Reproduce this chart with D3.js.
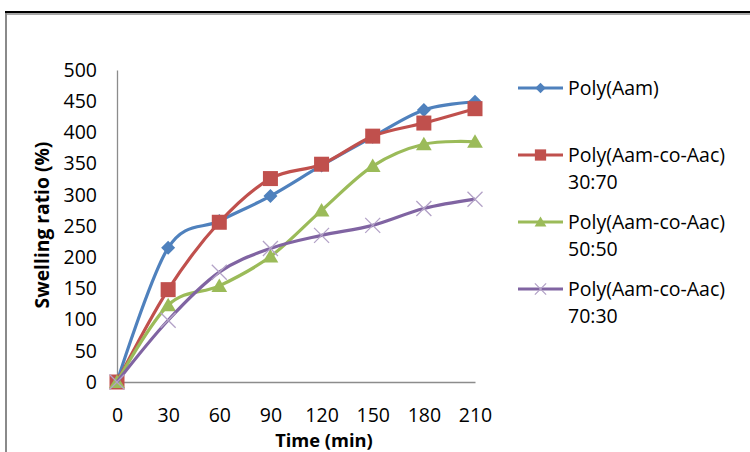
<!DOCTYPE html>
<html>
<head>
<meta charset="utf-8">
<script src="https://cdn.jsdelivr.net/npm/d3@7"></script>
<style>
  html, body { margin: 0; padding: 0; background: #fff; }
  svg { display: block; }
  text { font-family: "Open Sans", "DejaVu Sans", sans-serif; fill: #000; }
</style>
</head>
<body>
<svg id="chart" width="750" height="452"></svg>
<script>
// Swelling ratio (%) over time for the homopolymer and the three copolymer ratios
const times = [0, 30, 60, 90, 120, 150, 180, 210];
const yTicks = [0, 50, 100, 150, 200, 250, 300, 350, 400, 450, 500];

const polyAam      = [0, 215, 258, 298, 347, 393, 436, 449];
const poly30_70    = [0, 148, 256, 326, 349, 394, 415, 438];
const poly50_50    = [0, 123, 154, 201, 275, 346, 381, 385];
const poly70_30    = [0, 99, 176, 214, 235, 251, 278, 293];

const seriesNames  = [["Poly(Aam)"], ["Poly(Aam-co-Aac)", "30:70"], ["Poly(Aam-co-Aac)", "50:50"], ["Poly(Aam-co-Aac)", "70:30"]];
const seriesValues = [polyAam, poly30_70, poly50_50, poly70_30];
const seriesColors = ["#4F81BD", "#C0504D", "#9BBB59", "#8064A2"];
const markerTypes  = ["diamond", "square", "triangle", "cross"];

const svg = d3.select("#chart");

// frame edges
svg.append("line").attr("x1", 5).attr("x2", 750).attr("y1", 12).attr("y2", 12)
  .attr("stroke", "#000").attr("stroke-width", 2.2);
svg.append("line").attr("x1", 6).attr("x2", 750).attr("y1", 14).attr("y2", 14)
  .attr("stroke", "#8a8a8a").attr("stroke-width", 1.5);
svg.append("line").attr("x1", 6).attr("x2", 6).attr("y1", 13).attr("y2", 452)
  .attr("stroke", "#8a8a8a").attr("stroke-width", 2);

const plot = { left: 117, right: 475, top: 70, bottom: 382 };

const x = d3.scalePoint().domain(times).range([plot.left, plot.right]);
const y = d3.scaleLinear().domain([0, 500]).range([plot.bottom, plot.top]);

// axes
const yAxis = svg.append("g").attr("transform", `translate(${plot.left},0)`)
  .call(d3.axisLeft(y).tickValues(yTicks).tickSize(0).tickPadding(20));
const xAxis = svg.append("g").attr("transform", `translate(0,${plot.bottom})`)
  .call(d3.axisBottom(x).tickSize(0).tickPadding(26));
[yAxis, xAxis].forEach(g => {
  g.select(".domain").attr("stroke", "#8c8c8c").attr("stroke-width", 1.3);
  g.selectAll("text").attr("font-size", 19.5).attr("font-family", "'Open Sans', sans-serif").attr("fill", "#000");
});

// axis titles
svg.append("text").attr("x", 324).attr("y", 447).attr("text-anchor", "middle")
  .attr("font-size", 18.3).attr("font-weight", "bold").text("Time (min)");
svg.append("text").attr("transform", "translate(49,225) rotate(-90)").attr("text-anchor", "middle")
  .attr("font-size", 19.3).attr("font-weight", "bold").text("Swelling ratio (%)");

// marker shapes
function marker(g, type, color, s) {
  if (type === "diamond") {
    g.append("path").attr("d", `M0,${-s}L${s},0L0,${s}L${-s},0Z`).attr("fill", color);
  } else if (type === "square") {
    g.append("rect").attr("x", -s).attr("y", -s).attr("width", 2 * s).attr("height", 2 * s).attr("fill", color);
  } else if (type === "triangle") {
    g.append("path").attr("d", `M0,${-s}L${s * 1.05},${s * 0.8}L${-s * 1.05},${s * 0.8}Z`).attr("fill", color);
  } else {
    g.append("path").attr("d", `M${-s},${-s}L${s},${s}M${-s},${s}L${s},${-s}`)
      .attr("stroke", "#B3A2C7").attr("stroke-width", 1.3).attr("fill", "none");
  }
}
const markerSize = { diamond: 7, square: 7.5, triangle: 7.5, cross: 7.5 };

const line = d3.line()
  .x((d, i) => x(times[i]))
  .y(d => y(d))
  .curve(d3.curveCatmullRom.alpha(0));

seriesValues.forEach((vals, si) => {
  const g = svg.append("g");
  g.append("path").datum(vals).attr("d", line).attr("fill", "none")
    .attr("stroke", seriesColors[si]).attr("stroke-width", 3.2).attr("stroke-linejoin", "round");
  vals.forEach((v, i) => {
    const m = g.append("g").attr("transform", `translate(${x(times[i])},${y(v)})`);
    marker(m, markerTypes[si], seriesColors[si], markerSize[markerTypes[si]]);
  });
});

// legend
const legendY = [88, 155, 222, 289];
seriesNames.forEach((lines, si) => {
  const g = svg.append("g").attr("transform", `translate(0,${legendY[si]})`);
  g.append("line").attr("x1", 518).attr("x2", 563).attr("y1", 0).attr("y2", 0)
    .attr("stroke", seriesColors[si]).attr("stroke-width", 3.2);
  const m = g.append("g").attr("transform", "translate(540.5,0)");
  marker(m, markerTypes[si], seriesColors[si], markerSize[markerTypes[si]] * 0.75);
  lines.forEach((t, li) => {
    g.append("text").attr("x", 568).attr("y", li * 27 + 6.5).attr("font-size", 19.5).text(t);
  });
});
</script>
</body>
</html>
